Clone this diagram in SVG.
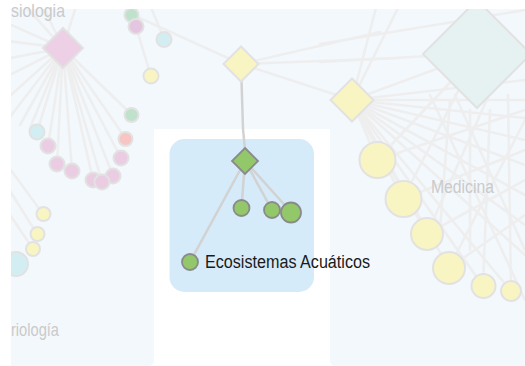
<svg xmlns="http://www.w3.org/2000/svg" width="525" height="366" viewBox="0 0 525 366">
<style>
.bg{fill:#f3f8fd}
.bl{stroke:#eeeeee;stroke-width:2.6;fill:none;stroke-linecap:round}
.fn{stroke:#e2e2e2;stroke-width:2}
.lbl{font-family:"Liberation Sans",Arial,sans-serif;fill:#cacaca}
.fl{stroke:#d2d2d2;stroke-width:2.5;fill:none}
.gn{fill:#93c86a;stroke:#8a8a8a;stroke-width:1.8}
</style>
<defs>
<clipPath id="vp"><rect x="11" y="0" width="514" height="366"/></clipPath>
<clipPath id="pn"><rect x="11" y="9" width="514" height="357"/></clipPath>
</defs>
<rect width="525" height="366" fill="#ffffff"/>
<path class="bg" d="M11 9H525V366H335a5 5 0 0 1-5-5V129H154V361a5 5 0 0 1-5 5H11Z"/>
<g clip-path="url(#pn)">
<g id="connectors">
<g class="bl">
<line x1="63" y1="48" x2="0" y2="20"/>
<line x1="63" y1="48" x2="0" y2="40"/>
<line x1="63" y1="48" x2="0" y2="60"/>
<line x1="63" y1="48" x2="0" y2="80"/>
<line x1="63" y1="48" x2="0" y2="105"/>
<line x1="63" y1="48" x2="0" y2="130"/>
<line x1="63" y1="48" x2="40" y2="0"/>
<line x1="63" y1="48" x2="78" y2="0"/>
<line x1="63" y1="48" x2="20" y2="0"/>
<line x1="63" y1="48" x2="37" y2="132"/>
<line x1="63" y1="48" x2="48" y2="146"/>
<line x1="63" y1="48" x2="57" y2="164"/>
<line x1="63" y1="48" x2="72" y2="171"/>
<line x1="63" y1="48" x2="93" y2="180"/>
<line x1="63" y1="48" x2="102" y2="182"/>
<line x1="63" y1="48" x2="113" y2="176"/>
<line x1="63" y1="48" x2="121" y2="158"/>
<line x1="63" y1="48" x2="126" y2="139"/>
<line x1="63" y1="48" x2="132" y2="115"/>
<line x1="63" y1="48" x2="20" y2="125"/>
<line x1="63" y1="48" x2="30" y2="128"/>
<line x1="0" y1="155" x2="43" y2="214"/>
<line x1="0" y1="175" x2="37" y2="234"/>
<line x1="0" y1="200" x2="33" y2="249"/>
<line x1="0" y1="230" x2="16" y2="264"/>
<line x1="136" y1="27" x2="151" y2="76"/>
<line x1="148" y1="0" x2="164" y2="39"/>
<line x1="131" y1="14" x2="241" y2="64"/>
<line x1="122" y1="0" x2="131" y2="14"/>
<line x1="241" y1="64" x2="380" y2="32"/>
<line x1="241" y1="64" x2="400" y2="58"/>
<line x1="241" y1="64" x2="352" y2="100"/>
<line x1="352" y1="100" x2="477" y2="54"/>
<line x1="320" y1="44" x2="525" y2="10"/>
<line x1="320" y1="62" x2="430" y2="56"/>
<line x1="378" y1="0" x2="352" y2="100"/>
<line x1="402" y1="0" x2="352" y2="100"/>
<line x1="352" y1="100" x2="525" y2="80"/>
<line x1="352" y1="100" x2="525" y2="100"/>
<line x1="352" y1="100" x2="525" y2="118"/>
<line x1="352" y1="100" x2="525" y2="140"/>
<line x1="352" y1="100" x2="525" y2="165"/>
<line x1="352" y1="100" x2="525" y2="195"/>
<line x1="352" y1="100" x2="525" y2="225"/>
<line x1="352" y1="100" x2="525" y2="255"/>
<line x1="352" y1="100" x2="377" y2="160"/>
<line x1="352" y1="100" x2="403" y2="199"/>
<line x1="352" y1="100" x2="427" y2="234"/>
<line x1="352" y1="100" x2="449" y2="268"/>
<line x1="352" y1="100" x2="483" y2="286"/>
<line x1="352" y1="100" x2="511" y2="291"/>
<line x1="377" y1="160" x2="477" y2="54"/>
<line x1="403" y1="199" x2="477" y2="54"/>
<line x1="427" y1="234" x2="500" y2="70"/>
<line x1="449" y1="268" x2="525" y2="120"/>
<line x1="483" y1="286" x2="490" y2="110"/>
<line x1="511" y1="291" x2="508" y2="95"/>
<line x1="377" y1="160" x2="525" y2="110"/>
<line x1="403" y1="199" x2="525" y2="150"/>
<line x1="427" y1="234" x2="525" y2="180"/>
<line x1="449" y1="268" x2="525" y2="215"/>
<line x1="430" y1="95" x2="525" y2="300"/>
<line x1="455" y1="95" x2="525" y2="250"/>
<line x1="470" y1="110" x2="470" y2="250"/>
<line x1="450" y1="100" x2="440" y2="230"/>
</g>
<line class="fl" x1="241" y1="64" x2="243" y2="129"/>
</g>
<g id="bg-nodes" class="fn">
<g id="n-fisiologia"><path d="M63 28L83 48L63 68L43 48Z" fill="#edd0e6"/></g>
<g id="n-c1"><circle cx="131.5" cy="115" r="7" fill="#c0e2cc"/></g>
<g id="n-c2"><circle cx="37" cy="132" r="7.5" fill="#d3eef2"/></g>
<g id="n-c3"><circle cx="48" cy="146" r="7.5" fill="#ebcde3"/></g>
<g id="n-c4"><circle cx="125.5" cy="139" r="7" fill="#f7c6c4"/></g>
<g id="n-c5"><circle cx="121" cy="158" r="7.5" fill="#ebcde3"/></g>
<g id="n-c6"><circle cx="57" cy="164" r="7.5" fill="#ebcde3"/></g>
<g id="n-c7"><circle cx="72" cy="171" r="7.5" fill="#ebcde3"/></g>
<g id="n-c8"><circle cx="93" cy="180" r="7.5" fill="#ebcde3"/></g>
<g id="n-c9"><circle cx="113" cy="176" r="7.5" fill="#ebcde3"/></g>
<g id="n-c10"><circle cx="102" cy="182" r="7.5" fill="#ebcde3"/></g>
<g id="n-c11"><circle cx="43.5" cy="214" r="7" fill="#f8f5c2"/></g>
<g id="n-c12"><circle cx="37.5" cy="234" r="7" fill="#f8f5c2"/></g>
<g id="n-c13"><circle cx="33" cy="249" r="7" fill="#f8f5c2"/></g>
<g id="n-c14"><circle cx="16" cy="264" r="12" fill="#d3eef2"/></g>
<g id="n-t1"><circle cx="131.5" cy="15" r="7" fill="#c0e2cc"/></g>
<g id="n-t2"><circle cx="136" cy="26.5" r="7.5" fill="#e4c6e0"/></g>
<g id="n-t3"><circle cx="164" cy="39.5" r="7.5" fill="#d3eef2"/></g>
<g id="n-t4"><circle cx="151" cy="76" r="7.5" fill="#f8f5c2"/></g>
<g id="n-d1"><path d="M241 46.5L258.5 64L241 81.5L223.5 64Z" fill="#f8f5c2"/></g>
<g id="n-d2"><path d="M352 78.5L373.5 100L352 121.5L330.5 100Z" fill="#f8f5c2"/></g>
<g id="n-medicina"><path d="M477 0L531 54L477 108L423 54Z" fill="#e5f2f1"/></g>
<g id="n-r1"><circle cx="377.5" cy="160" r="18" fill="#f8f5c2"/></g>
<g id="n-r2"><circle cx="403.5" cy="199" r="18" fill="#f8f5c2"/></g>
<g id="n-r3"><circle cx="427" cy="234" r="16" fill="#f8f5c2"/></g>
<g id="n-r4"><circle cx="449" cy="268" r="16" fill="#f8f5c2"/></g>
<g id="n-r5"><circle cx="483.5" cy="286" r="12" fill="#f8f5c2"/></g>
<g id="n-r6"><circle cx="511" cy="291" r="10" fill="#f8f5c2"/></g>
</g>
</g>
<g id="labels" clip-path="url(#vp)">
<text class="lbl" x="11" y="17" font-size="18.5" textLength="54" lengthAdjust="spacingAndGlyphs">siologia</text>
<text class="lbl" x="11" y="336" font-size="18.5" textLength="48" lengthAdjust="spacingAndGlyphs">riología</text>
<text class="lbl" x="431" y="193" font-size="18" textLength="63" lengthAdjust="spacingAndGlyphs">Medicina</text>
</g>
<g id="focus">
<rect x="169.5" y="139" width="144.5" height="153" rx="15" fill="#d5ebf9"/>
<g id="focus-connectors">
<line class="fl" x1="243" y1="129" x2="245" y2="150"/>
<line class="fl" x1="245" y1="161" x2="241.5" y2="208"/>
<line class="fl" x1="245" y1="161" x2="272" y2="210"/>
<line class="fl" x1="245" y1="161" x2="291" y2="212"/>
<line class="fl" x1="245" y1="161" x2="190" y2="262"/>
</g>
<g id="n-ecosistemas"><path class="gn" d="M245 148L258 161L245 174L232 161Z"/></g>
<g id="n-g1"><circle class="gn" cx="241.5" cy="208" r="8"/></g>
<g id="n-g2"><circle class="gn" cx="272" cy="210" r="8"/></g>
<g id="n-g3"><circle class="gn" cx="291" cy="212.5" r="10"/></g>
<g id="n-g4"><circle class="gn" cx="190" cy="262" r="8"/>
<text x="205" y="267.5" font-family="'Liberation Sans',Arial,sans-serif" font-size="18" fill="#1a1a1a" textLength="165" lengthAdjust="spacingAndGlyphs">Ecosistemas Acuáticos</text></g>
</g>
</svg>
